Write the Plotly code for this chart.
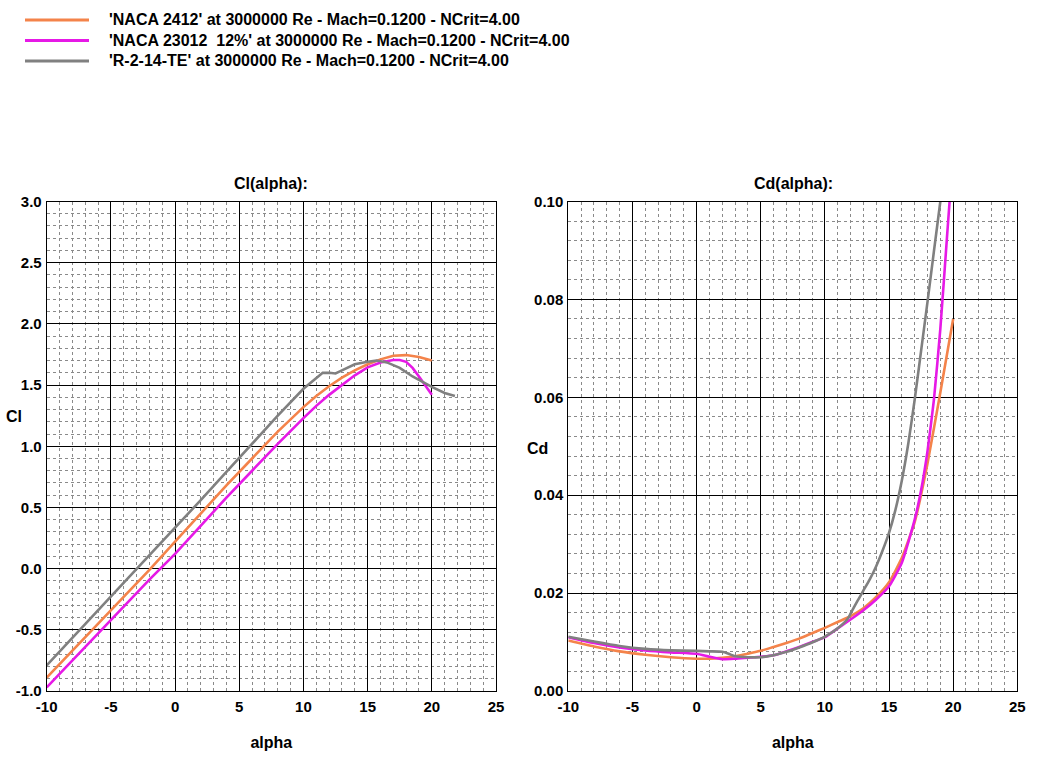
import plotly.graph_objects as go

# ---------------- data ----------------
series_names = [
    "'NACA 2412' at 3000000 Re - Mach=0.1200 - NCrit=4.00",
    "'NACA 23012  12%' at 3000000 Re - Mach=0.1200 - NCrit=4.00",
    "'R-2-14-TE' at 3000000 Re - Mach=0.1200 - NCrit=4.00",
]
series_colors = ["#F4834A", "#E619E6", "#808080"]

# Cl(alpha)
alpha_cl_2412 = [-10, -8, -6, -4, -2, 0, 2, 4, 6, 8, 10, 11, 12, 13, 14, 15, 16, 17, 18, 19, 20]
cl_2412 = [-0.89, -0.67, -0.45, -0.23, -0.01, 0.22, 0.45, 0.68, 0.90, 1.12, 1.32, 1.41, 1.49,
           1.56, 1.62, 1.67, 1.71, 1.74, 1.745, 1.73, 1.70]

alpha_cl_23012 = [-10, -8, -6, -4, -2, 0, 2, 4, 6, 8, 10, 11, 12, 13, 14, 15, 16, 17, 17.5,
                  18, 18.5, 19, 19.5, 20]
cl_23012 = [-0.97, -0.75, -0.53, -0.31, -0.09, 0.12, 0.35, 0.58, 0.80, 1.02, 1.23, 1.33, 1.42,
            1.50, 1.58, 1.645, 1.685, 1.705, 1.705, 1.69, 1.64, 1.57, 1.49, 1.42]

alpha_cl_r2 = [-10, -8, -6, -4, -2, 0, 2, 4, 6, 8, 10, 11, 11.5, 12, 12.5, 13, 14, 15, 15.7,
               16.5, 17.5, 18.5, 19.5, 20, 21, 21.8]
cl_r2 = [-0.79, -0.565, -0.34, -0.115, 0.11, 0.33, 0.56, 0.79, 1.02, 1.25, 1.47, 1.56, 1.60,
         1.60, 1.595, 1.62, 1.67, 1.69, 1.70, 1.685, 1.64, 1.57, 1.51, 1.485, 1.435, 1.41]

# Cd(alpha)
alpha_cd_2412 = [-10, -8, -6, -4, -2, 0, 1, 2, 3, 4, 5, 6, 7, 8, 9, 10, 11, 12, 13, 14, 15,
                 16, 17, 18, 19, 20]
cd_2412 = [0.0103, 0.0091, 0.0081, 0.0074, 0.0069, 0.0066, 0.0066, 0.0068, 0.0071, 0.0076,
           0.0082, 0.0090, 0.0098, 0.0107, 0.0118, 0.0129, 0.0141, 0.0153, 0.0169, 0.0192,
           0.0222, 0.0272, 0.0345, 0.0465, 0.0610, 0.0760]

alpha_cd_23012 = [-10, -8, -6, -4, -2, 0, 1, 2, 3, 4, 5, 6, 7, 8, 9, 10, 11, 12, 13, 14, 15,
                  16, 17, 17.5, 18, 18.5, 19, 19.5, 20]
cd_23012 = [0.0110, 0.0098, 0.0089, 0.0083, 0.0079, 0.0076, 0.0070, 0.0065, 0.0066, 0.0068,
            0.0070, 0.0073, 0.0081, 0.0090, 0.0100, 0.0110, 0.0128, 0.0146, 0.0165, 0.0187,
            0.0214, 0.0262, 0.0350, 0.0410, 0.0490, 0.0595, 0.0740, 0.0920, 0.1100]

alpha_cd_r2 = [-10, -8, -6, -4, -2, 0, 1, 2, 2.5, 3, 4, 5, 6, 7, 8, 9, 10, 11, 11.8, 12, 12.5,
               13, 13.5, 14, 14.5, 15, 15.5, 16, 16.5, 17, 17.5, 18, 18.5, 19, 19.5]
cd_r2 = [0.0111, 0.0101, 0.0092, 0.0086, 0.0083, 0.0082, 0.0081, 0.0080, 0.0076, 0.0071,
         0.0069, 0.0069, 0.0073, 0.0080, 0.0089, 0.0099, 0.0111, 0.0128, 0.0148, 0.0158,
         0.0182, 0.0205, 0.0228, 0.0255, 0.0287, 0.0323, 0.0370, 0.0430, 0.0505, 0.0595,
         0.0695, 0.0795, 0.0898, 0.1000, 0.1100]

# tick labels (hyphen minus, as in the reference)
x_tick_vals = [-10, -5, 0, 5, 10, 15, 20, 25]
x_tick_text = ["-10", "-5", "0", "5", "10", "15", "20", "25"]
cl_tick_vals = [-1.0, -0.5, 0.0, 0.5, 1.0, 1.5, 2.0, 2.5, 3.0]
cl_tick_text = ["-1.0", "-0.5", "0.0", "0.5", "1.0", "1.5", "2.0", "2.5", "3.0"]
cd_tick_vals = [0.0, 0.02, 0.04, 0.06, 0.08, 0.10]
cd_tick_text = ["0.00", "0.02", "0.04", "0.06", "0.08", "0.10"]

# ---------------- figure ----------------
FONT = "Liberation Sans, Arial, sans-serif"
W, H = 1037, 761

fig = go.Figure()

cl_sets = [(alpha_cl_2412, cl_2412), (alpha_cl_23012, cl_23012), (alpha_cl_r2, cl_r2)]
cd_sets = [(alpha_cd_2412, cd_2412), (alpha_cd_23012, cd_23012), (alpha_cd_r2, cd_r2)]

for name, color, (a, c) in zip(series_names, series_colors, cl_sets):
    fig.add_trace(go.Scatter(x=a, y=c, mode="lines", name=name, legendgroup=name,
                             showlegend=False,
                             line=dict(color=color, width=2.6), xaxis="x", yaxis="y"))
for name, color, (a, c) in zip(series_names, series_colors, cd_sets):
    fig.add_trace(go.Scatter(x=a, y=c, mode="lines", name=name, legendgroup=name,
                             showlegend=False,
                             line=dict(color=color, width=2.6, shape="spline", smoothing=0.5),
                             xaxis="x2", yaxis="y2"))

tick_font = dict(family=FONT, size=15, color="black", weight="bold")
minor_grid = dict(tickmode="linear", showgrid=True, gridcolor="#8a8a8a", gridwidth=1,
                  griddash="3px,3px")

def xax(domain, anchor):
    return dict(domain=domain, anchor=anchor, range=[-10, 25], automargin=False,
                tickmode="array", tickvals=x_tick_vals, ticktext=x_tick_text,
                showgrid=True, gridcolor="black", gridwidth=1, zeroline=False,
                showline=True, mirror=True, linecolor="black", linewidth=1,
                ticks="", tickfont=tick_font, ticklabelstandoff=2,
                minor=dict(dtick=1, tick0=0, **minor_grid),
                title=dict(text="alpha", font=dict(family=FONT, size=16, color="black",
                                                   weight="bold"), standoff=22))

def yax(domain, anchor, rng, vals, text, mdtick):
    return dict(domain=domain, anchor=anchor, range=rng, automargin=False,
                tickmode="array", tickvals=vals, ticktext=text,
                showgrid=True, gridcolor="black", gridwidth=1,
                zeroline=False, showline=True, mirror=True, linecolor="black",
                linewidth=1, ticks="", tickfont=tick_font, ticklabelstandoff=1,
                minor=dict(dtick=mdtick, tick0=0, **minor_grid))

ydom = [70 / H, 559.5 / H]
fig.update_layout(
    width=W, height=H,
    margin=dict(l=0, r=0, t=0, b=0),
    paper_bgcolor="white", plot_bgcolor="white",
    font=dict(family=FONT, color="black"),
    xaxis=xax([46.7 / W, 496 / W], "y"),
    yaxis=yax(ydom, "x", [-1, 3], cl_tick_vals, cl_tick_text, 0.1),
    xaxis2=xax([568.3 / W, 1017.3 / W], "y2"),
    yaxis2=yax(ydom, "x2", [0, 0.1], cd_tick_vals, cd_tick_text, 0.004),
    showlegend=False,
)

# legend block (top-left): key line + label per series
legend_rows_y = [20, 40.5, 61]
for name, color, ry in zip(series_names, series_colors, legend_rows_y):
    fig.add_shape(type="line", xref="paper", yref="paper",
                  x0=25 / W, x1=89 / W, y0=1 - ry / H, y1=1 - ry / H,
                  line=dict(color=color, width=3))
    fig.add_annotation(text=name, x=107 / W, y=1 - ry / H, xref="paper", yref="paper",
                       showarrow=False, xanchor="left", yanchor="middle",
                       font=dict(family=FONT, size=16, color="black", weight="bold"))

ann_font = dict(family=FONT, size=16, color="black", weight="bold")
fig.add_annotation(text="Cl(alpha):", x=271 / W, y=1 - 183 / H, xref="paper", yref="paper",
                   showarrow=False, font=ann_font, xanchor="center", yanchor="middle")
fig.add_annotation(text="Cd(alpha):", x=793 / W, y=1 - 183 / H, xref="paper", yref="paper",
                   showarrow=False, font=ann_font, xanchor="center", yanchor="middle")
fig.add_annotation(text="Cl", x=14 / W, y=1 - 416 / H, xref="paper", yref="paper",
                   showarrow=False, font=ann_font, xanchor="center", yanchor="middle")
fig.add_annotation(text="Cd", x=537 / W, y=1 - 448 / H, xref="paper", yref="paper",
                   showarrow=False, font=ann_font, xanchor="center", yanchor="middle")

fig.write_html(
    "out.html",
    config={"displayModeBar": False},
    post_script="document.body.style.margin='0px';document.body.style.overflow='hidden';",
)
